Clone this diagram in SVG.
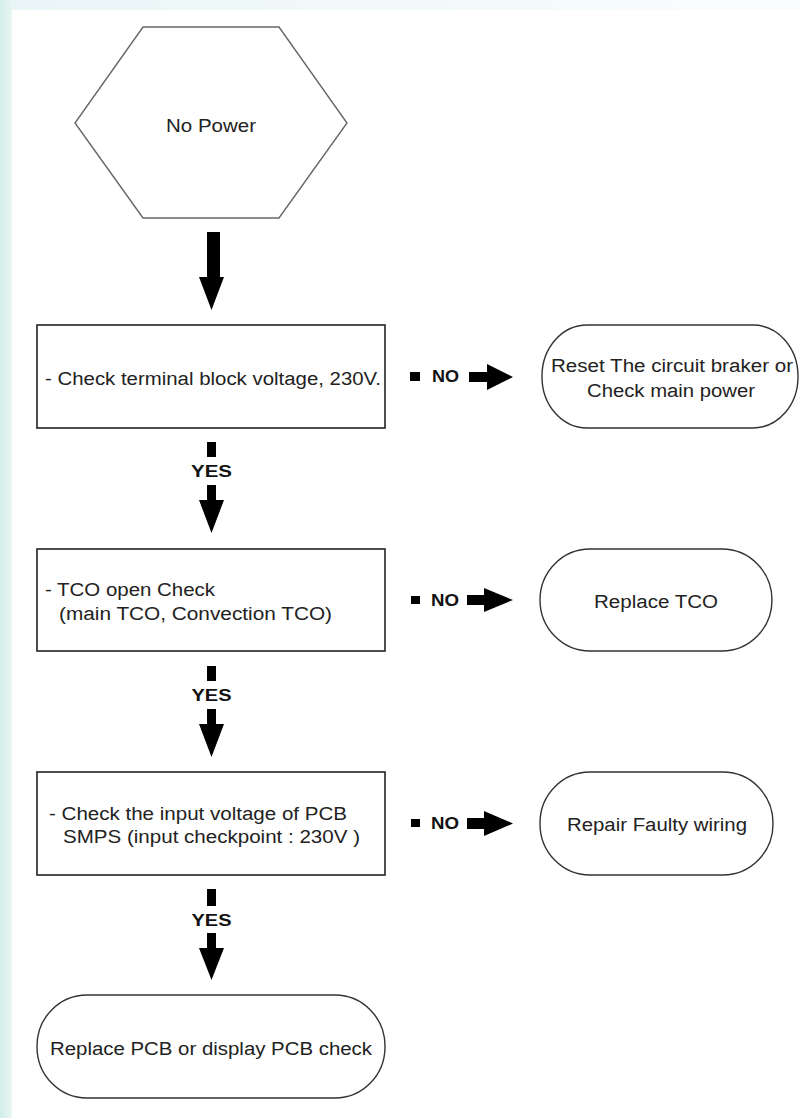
<svg xmlns="http://www.w3.org/2000/svg" width="800" height="1118" viewBox="0 0 800 1118">
<defs>
<linearGradient id="leftBand" x1="0" y1="0" x2="1" y2="0">
<stop offset="0" stop-color="#d3eee8"/>
<stop offset="1" stop-color="#e9f6f3"/>
</linearGradient>
<linearGradient id="topBand" x1="0" y1="0" x2="1" y2="0">
<stop offset="0" stop-color="#eaf5f7"/>
<stop offset="1" stop-color="#fafdfd"/>
</linearGradient>
<style>
.t{font-family:"Liberation Sans",Arial,sans-serif;font-size:18px;fill:#222}
.b{font-family:"Liberation Sans",Arial,sans-serif;font-size:16px;font-weight:bold;fill:#111}
.box{fill:#fff;stroke:#222;stroke-width:1.6}
.term{fill:#fff;stroke:#333;stroke-width:1.4}
.hex{fill:#fff;stroke:#666;stroke-width:1.4}
.arr{fill:#000}
</style>
</defs>
<rect x="0" y="0" width="800" height="1118" fill="#fff"/>
<rect x="0" y="0" width="800" height="10" fill="url(#topBand)"/>
<rect x="0" y="0" width="12" height="1118" fill="url(#leftBand)"/>

<g id="n_start">
<polygon class="hex" points="143,27 279,27 347,123 279,218 143,218 75,123"/>
<text class="t" x="211" y="132" text-anchor="middle" textLength="90" lengthAdjust="spacingAndGlyphs">No Power</text>
</g>

<g id="n_check1">
<rect class="box" x="37" y="325" width="348" height="103"/>
<text class="t" x="45" y="385" textLength="336" lengthAdjust="spacingAndGlyphs">- Check terminal block voltage, 230V.</text>
</g>
<g id="n_reset">
<rect class="term" x="542" y="325" width="256" height="103" rx="45" ry="51"/>
<text class="t" x="551" y="372" textLength="242" lengthAdjust="spacingAndGlyphs">Reset The circuit braker or</text>
<text class="t" x="587" y="397" textLength="168" lengthAdjust="spacingAndGlyphs">Check main power</text>
</g>

<g id="n_check2">
<rect class="box" x="37" y="549" width="348" height="102"/>
<text class="t" x="45" y="596" textLength="170" lengthAdjust="spacingAndGlyphs">- TCO open Check</text>
<text class="t" x="59" y="620" textLength="273" lengthAdjust="spacingAndGlyphs">(main TCO, Convection TCO)</text>
</g>
<g id="n_tco">
<rect class="term" x="540" y="549" width="232" height="102" rx="50" ry="51"/>
<text class="t" x="656" y="608" text-anchor="middle" textLength="124" lengthAdjust="spacingAndGlyphs">Replace TCO</text>
</g>

<g id="n_check3">
<rect class="box" x="37" y="772" width="348" height="103"/>
<text class="t" x="49" y="820" textLength="298" lengthAdjust="spacingAndGlyphs">- Check the input voltage of PCB</text>
<text class="t" x="63" y="843" textLength="297" lengthAdjust="spacingAndGlyphs">SMPS (input checkpoint : 230V )</text>
</g>
<g id="n_wiring">
<rect class="term" x="540" y="772" width="233" height="103" rx="50" ry="51"/>
<text class="t" x="657" y="831" text-anchor="middle" textLength="180" lengthAdjust="spacingAndGlyphs">Repair Faulty wiring</text>
</g>

<g id="n_pcb">
<rect class="term" x="37" y="995" width="348" height="103" rx="50" ry="51"/>
<text class="t" x="50" y="1055" textLength="322" lengthAdjust="spacingAndGlyphs">Replace PCB or display PCB check</text>
</g>

<g id="connectors">
<polygon class="arr" points="207,232 220,232 220,277 224,277 211.5,310 199,277 207,277"/>

<rect class="arr" x="207" y="442" width="9" height="15"/>
<text class="b" x="211.5" y="477" text-anchor="middle" textLength="41" lengthAdjust="spacingAndGlyphs">YES</text>
<polygon class="arr" points="207,485 216,485 216,500 224,500 211.5,533 199,500 207,500"/>

<rect class="arr" x="207" y="666" width="9" height="15"/>
<text class="b" x="211.5" y="701" text-anchor="middle" textLength="40" lengthAdjust="spacingAndGlyphs">YES</text>
<polygon class="arr" points="207,709 216,709 216,724 224,724 211.5,757 199,724 207,724"/>

<rect class="arr" x="207" y="889" width="9" height="17"/>
<text class="b" x="211.5" y="926" text-anchor="middle" textLength="40" lengthAdjust="spacingAndGlyphs">YES</text>
<polygon class="arr" points="207,933 216,933 216,948 224,948 211.5,980 199,948 207,948"/>

<rect class="arr" x="410" y="372" width="10" height="9"/>
<text class="b" x="432" y="382" textLength="27" lengthAdjust="spacingAndGlyphs">NO</text>
<polygon class="arr" points="469,372 487,372 487,364 513,377 487,390 487,382 469,382"/>

<rect class="arr" x="411" y="596" width="9" height="8"/>
<text class="b" x="431" y="606" textLength="28" lengthAdjust="spacingAndGlyphs">NO</text>
<polygon class="arr" points="467,595 484,595 484,588 513,600 484,612 484,605 467,605"/>

<rect class="arr" x="411" y="819" width="9" height="8"/>
<text class="b" x="431" y="829" textLength="28" lengthAdjust="spacingAndGlyphs">NO</text>
<polygon class="arr" points="467,818 484,818 484,811 513,823.5 484,836 484,829 467,829"/>
</g>
</svg>
